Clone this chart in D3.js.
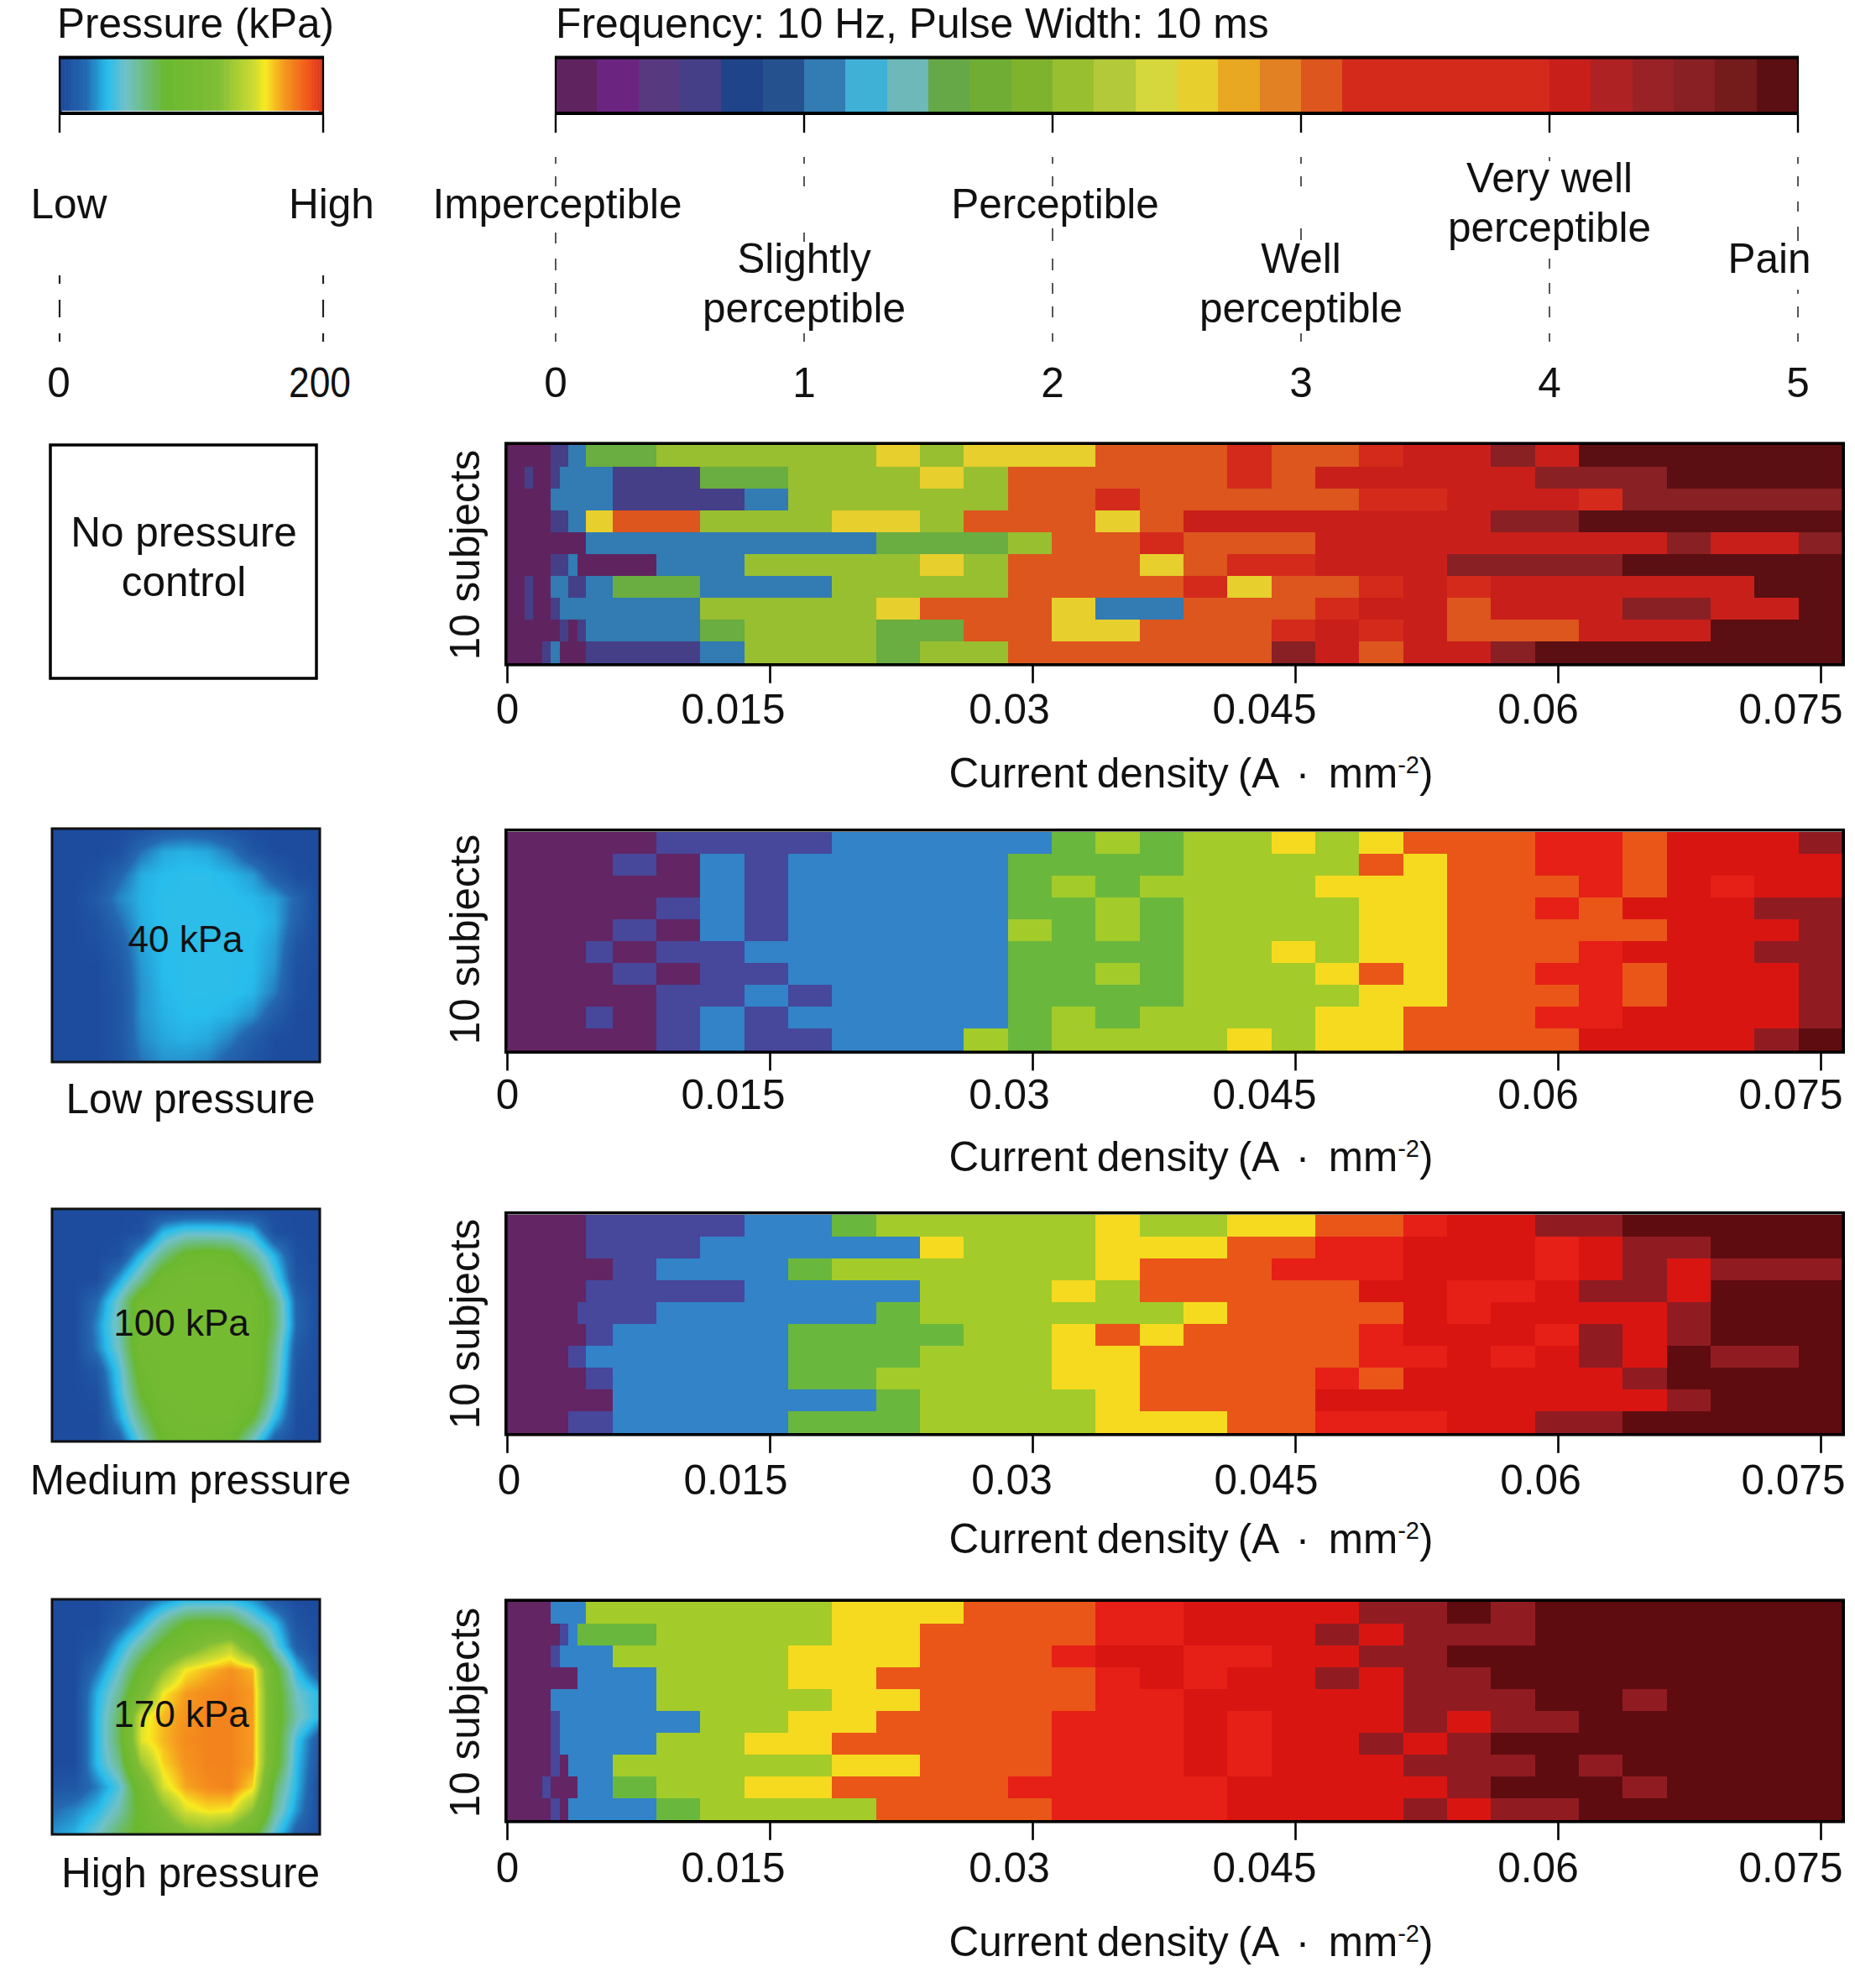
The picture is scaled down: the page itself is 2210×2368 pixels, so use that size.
<!DOCTYPE html>
<html><head><meta charset="utf-8">
<script src="https://cdnjs.cloudflare.com/ajax/libs/d3/7.8.5/d3.min.js"></script>
<style>html,body{margin:0;padding:0;background:#fff}svg{display:block}text{font-family:"Liberation Sans",Arial,sans-serif;fill:#111}</style>
</head><body><svg id="c" width="2210" height="2368" xmlns="http://www.w3.org/2000/svg"></svg>
<script>
// Current density column edges (A/mm2)
const edges=[0,.0005,.001,.0015,.002,.0025,.003,.0035,.004,.0045,.006,.0085,.011,.0135,.016,.0185,.021,.0235,.026,.0285,.031,.0335,.036,.0385,.041,.0435,.046,.0485,.051,.0535,.056,.0585,.061,.0635,.066,.0685,.071,.0735,.076];
const tickValues=[0,.015,.03,.045,.06,.075];
const tickLabels=["0","0.015","0.03","0.045","0.06","0.075"];
const ratingStep=0.5; // each level below is a rating of level x 0.5

const noPressure=[
[0,0,0,0,0,1,1,2,2,3,3,4,4,4,4,4,5,4,5,5,5,6,6,6,7,6,6,7,8,8,9,8,10,10,10,10,10,10],
[0,0,1,0,0,1,2,2,2,2,1,1,3,3,4,4,4,5,4,6,6,6,6,6,7,6,8,8,8,8,8,9,9,9,10,10,10,10],
[0,0,0,0,0,2,2,2,2,2,1,1,1,2,4,4,4,4,4,6,6,7,6,6,6,6,6,7,7,8,8,8,7,9,9,9,9,9],
[0,0,0,0,0,1,1,2,2,5,6,6,4,4,4,5,5,4,6,6,6,5,6,8,8,8,8,8,8,8,9,9,10,10,10,10,10,10],
[0,0,0,0,0,0,0,0,0,2,2,2,2,2,2,2,3,3,3,4,6,6,7,6,6,6,8,8,8,8,8,8,8,8,9,8,8,9],
[0,0,0,0,0,1,1,2,0,0,0,2,2,4,4,4,4,5,4,6,6,6,5,6,7,7,8,8,8,9,9,9,9,10,10,10,10,10],
[0,0,1,0,0,2,2,1,1,2,3,3,2,2,2,4,4,4,4,6,6,6,6,7,5,6,6,7,8,7,8,8,8,8,8,8,10,10],
[0,0,1,0,0,1,2,2,2,2,2,2,4,4,4,4,5,6,6,6,5,2,2,6,6,6,7,8,8,6,8,8,8,9,9,8,8,10],
[0,0,0,0,0,0,1,0,1,2,2,2,3,4,4,4,3,3,6,6,5,5,6,6,6,7,8,7,8,6,6,6,8,8,8,10,10,10],
[0,0,0,0,1,2,0,0,0,1,1,1,2,4,4,4,3,4,4,6,6,6,6,6,6,9,8,6,8,8,9,10,10,10,10,10,10,10]];

const lowPressure=[
[0,0,0,0,0,0,0,0,0,0,0,1,1,1,1,2,2,2,2,2,3,4,3,4,4,5,4,5,6,6,6,7,7,6,8,8,8,9],
[0,0,0,0,0,0,0,0,0,0,1,0,2,1,2,2,2,2,2,3,3,3,3,4,4,4,4,6,5,6,6,7,7,6,8,8,8,8],
[0,0,0,0,0,0,0,0,0,0,0,0,2,1,2,2,2,2,2,3,4,3,4,4,4,4,5,5,5,6,6,6,7,6,8,7,8,8],
[0,0,0,0,0,0,0,0,0,0,0,1,2,1,2,2,2,2,2,3,3,4,3,4,4,4,4,5,5,6,6,7,6,8,8,8,9,9],
[0,0,0,0,0,0,0,0,0,0,1,0,2,1,2,2,2,2,2,4,3,4,3,4,4,4,4,5,5,6,6,6,6,6,8,8,8,9],
[0,0,0,0,0,0,0,0,0,1,0,1,1,2,2,2,2,2,2,3,3,3,3,4,4,5,4,5,5,6,6,6,7,8,8,8,9,9],
[0,0,0,0,0,0,0,0,0,0,1,0,1,1,2,2,2,2,2,3,3,4,3,4,4,4,5,6,5,6,6,7,7,6,8,8,8,9],
[0,0,0,0,0,0,0,0,0,0,0,1,1,2,1,2,2,2,2,3,3,3,3,4,4,4,4,5,5,6,6,6,7,6,8,8,8,9],
[0,0,0,0,0,0,0,0,0,1,0,1,2,1,2,2,2,2,2,3,4,3,4,4,4,4,5,5,6,6,6,7,7,8,8,8,8,9],
[0,0,0,0,0,0,0,0,0,0,0,1,2,1,1,2,2,2,4,3,4,4,4,4,5,4,5,5,6,6,6,6,8,8,8,8,9,10]];

const mediumPressure=[
[0,0,0,0,0,0,0,0,0,1,1,1,1,2,2,3,4,4,4,4,4,5,4,4,5,5,6,6,7,8,8,9,9,10,10,10,10,10],
[0,0,0,0,0,0,0,0,0,1,1,1,2,2,2,2,2,5,4,4,4,5,5,5,6,6,7,7,8,8,8,7,8,9,9,10,10,10],
[0,0,0,0,0,0,0,0,0,0,1,2,2,2,3,4,4,4,4,4,4,5,6,6,6,7,7,7,8,8,8,7,8,9,8,9,9,9],
[0,0,0,0,0,0,0,0,0,1,1,1,1,2,2,2,2,4,4,4,5,4,6,6,6,6,6,8,8,7,7,8,9,9,8,10,10,10],
[0,0,0,0,0,0,0,0,1,1,1,2,2,2,2,2,3,4,4,4,4,4,4,5,6,6,6,6,8,7,8,8,8,8,9,10,10,10],
[0,0,0,0,0,0,0,0,0,1,2,2,2,2,3,3,3,3,4,4,5,6,5,6,6,6,6,7,8,8,8,7,9,8,9,10,10,10],
[0,0,0,0,0,0,0,1,1,2,2,2,2,2,3,3,3,4,4,4,5,5,6,6,6,6,6,7,7,8,7,8,9,8,10,9,9,10],
[0,0,0,0,0,0,0,0,0,1,2,2,2,2,3,3,4,4,4,4,5,5,6,6,6,6,7,6,8,8,8,8,8,9,10,10,10,10],
[0,0,0,0,0,0,0,0,0,0,2,2,2,2,2,2,3,4,4,4,4,5,6,6,6,6,8,8,8,8,8,8,8,8,9,10,10,10],
[0,0,0,0,0,0,0,1,1,1,2,2,2,2,3,3,3,4,4,4,4,5,5,5,6,6,7,7,7,8,8,9,9,10,10,10,10,10]];

const highPressure=[
[0,0,0,0,0,2,2,2,2,4,4,4,4,4,4,5,5,5,6,6,6,7,7,8,8,8,8,9,9,10,9,10,10,10,10,10,10,10],
[0,0,0,0,0,0,1,2,3,3,3,4,4,4,4,5,5,6,6,6,6,7,7,8,8,8,9,8,9,9,9,10,10,10,10,10,10,10],
[0,0,0,0,0,1,2,2,2,2,4,4,4,4,5,5,5,6,6,6,7,8,8,7,7,8,8,9,9,10,10,10,10,10,10,10,10,10],
[0,0,0,0,0,0,0,0,2,2,2,4,4,4,5,5,6,6,6,6,6,7,8,7,8,8,9,8,9,9,10,10,10,10,10,10,10,10],
[0,0,0,0,0,2,2,2,2,2,2,4,4,4,4,5,5,6,6,6,6,7,7,8,8,8,8,8,9,9,9,10,10,9,10,10,10,10],
[0,0,0,0,0,1,2,2,2,2,2,2,4,4,5,5,6,6,6,6,7,7,7,8,7,8,8,8,9,8,9,9,10,10,10,10,10,10],
[0,0,0,0,0,1,2,2,2,2,2,4,4,5,5,6,6,6,6,6,7,7,7,8,7,8,8,9,8,9,10,10,10,10,10,10,10,10],
[0,0,0,0,0,1,0,2,2,2,4,4,4,4,4,5,5,6,6,6,7,7,7,8,7,8,8,8,9,9,9,10,9,10,10,10,10,10],
[0,0,0,0,1,0,0,0,2,2,3,4,4,5,5,6,6,6,6,7,7,7,7,7,8,8,8,8,8,9,10,10,10,9,10,10,10,10],
[0,0,0,0,0,1,0,2,2,2,2,3,4,4,4,4,6,6,6,6,7,7,7,7,8,8,8,8,9,8,9,9,10,10,10,10,10,10]];

// colours of the eleven rating levels
const paletteDull=["#5f2460","#453f88","#327bb3","#6aad40","#98bf30","#e7cf2d","#dc561e","#d42a1c","#c91f1a","#882024","#5b0f12"];
const paletteBright=["#632563","#47479b","#3283c7","#6ab73d","#a3cb2a","#f5da1f","#e95618","#e61f17","#d91512","#901c22","#5f0c10"];

// Frequency colour bar
const barColors=["#5f2460","#6b2580","#57397f","#453f88","#1f448a","#25528f","#327bb3","#3fb0d6","#6eb8b9","#66a848","#6fad34","#7fb32d","#98bf30","#b3c93a","#d5d73c","#e7cf2d","#e9a821","#e28024","#dc561e","#d42a1c","#d42a1c","#d42a1c","#d42a1c","#d42a1c","#c91f1a","#ae2224","#992226","#882024","#741b1c","#5b0f12"];
const barTicks=[0,1,2,3,4,5];

// Pressure colour scale (kPa)
const pressureStops=[0,20,36,50,80,120,148,156,170,192,200];
const pressureColors=["#1c479b","#2468b0","#27bdec","#6fc1c8","#6ab82f","#7fbd35","#cfdc30","#f8ea20","#f59a1e","#ee4a1a","#d4351c"];

// Pressure maps, coarse kPa readings
const mapLow=[
[3,3,3,3,6,12,14,12,8,3,3,3,3],
[3,3,3,5,22,32,34,32,24,10,3,3,3],
[3,3,5,18,33,36,37,37,35,30,14,4,3],
[3,3,12,26,34,37,37,37,37,35,31,18,3],
[3,3,7,20,33,37,37,37,37,37,33,15,3],
[3,3,5,14,31,36,37,37,37,36,30,9,3],
[3,3,3,11,29,36,37,37,37,36,28,6,3],
[3,3,3,9,28,35,37,37,37,35,24,5,3],
[3,3,3,9,28,34,36,36,34,28,13,3,3],
[3,3,3,9,26,32,34,32,25,13,4,3,3],
[3,3,3,8,22,28,28,25,15,8,3,3,3]];
const mapMedium=[
[3,3,3,3,3,3,3,3,3,3,3,3,3],
[3,3,3,3,6,36,46,46,44,36,6,3,3],
[3,3,3,6,36,64,85,90,85,62,34,5,3],
[3,3,3,30,60,95,100,100,100,88,46,8,3],
[3,3,20,52,96,100,100,100,100,100,68,16,3],
[3,3,26,56,100,100,100,100,100,100,70,18,3],
[3,3,24,52,98,100,100,100,100,100,62,12,3],
[3,3,10,42,90,100,100,100,100,100,58,8,3],
[3,3,5,38,80,100,100,100,100,96,52,6,3],
[3,3,3,30,66,95,100,100,100,80,38,4,3],
[3,3,3,14,50,85,92,92,86,50,14,3,3]];
const mapHigh=[
[3,3,3,8,14,26,36,36,36,28,10,3,3],
[3,3,3,14,34,60,80,84,80,55,36,8,3],
[3,3,8,34,60,85,105,125,140,100,50,14,3],
[3,3,22,48,85,125,156,165,172,165,85,36,8],
[3,3,34,60,105,156,170,174,176,170,90,50,36],
[3,3,36,70,150,165,172,176,176,170,90,55,36],
[3,3,36,72,152,165,174,176,176,170,90,40,10],
[3,3,36,62,130,160,172,176,176,170,88,36,8],
[8,10,24,44,96,150,168,174,176,160,70,34,3],
[20,26,36,55,85,120,150,158,156,125,60,28,3],
[28,34,50,70,85,100,115,120,110,85,44,14,3]];

const FS=49.5;
const svg=d3.select("#c");
svg.append("rect").attr("width",2210).attr("height",2368).attr("fill","#fff");
const txt=(s,x,y,a="middle",fs=FS)=>svg.append("text").attr("x",x).attr("y",y).attr("text-anchor",a).attr("font-size",fs).text(s);

// ---- Heat panels
const xCell=d3.scaleLinear().domain([0,.076]).range([604,2195]);
const xTick=d3.scaleLinear().domain([0,.075]).range([604,2169]);
const yRow=d3.range(10);
const panels=[
 {data:noPressure,pal:paletteDull,y0:530,y1:790,lx:[604,873,1202,1506,1832,2133],tb:862,tt:938,sy:661},
 {data:lowPressure,pal:paletteBright,y0:990.5,y1:1251.5,lx:[604,873,1202,1506,1832,2133],tb:1321,tt:1395,sy:1119},
 {data:mediumPressure,pal:paletteBright,y0:1446.5,y1:1707,lx:[606,876,1205,1508,1835,2136],tb:1780,tt:1850,sy:1577},
 {data:highPressure,pal:paletteBright,y0:1908,y1:2168,lx:[604,873,1202,1506,1832,2133],tb:2242,tt:2330,sy:2040}];
panels.forEach(p=>{
  const y=d3.scaleBand().domain(yRow).range([p.y0,p.y1]);
  const col=d3.scaleOrdinal().domain(d3.range(11)).range(p.pal);
  const g=svg.append("g").attr("shape-rendering","crispEdges");
  g.selectAll("g").data(p.data).join("g").attr("transform",(d,i)=>`translate(0,${y(i)})`)
   .selectAll("rect").data(d=>d).join("rect")
   .attr("x",(d,i)=>xCell(edges[i])).attr("width",(d,i)=>xCell(edges[i+1])-xCell(edges[i])+.5)
   .attr("height",y.bandwidth()+.5).attr("fill",d=>col(d));
  svg.append("rect").attr("x",602.8).attr("y",p.y0-1.8).attr("width",2196.2-602.8).attr("height",p.y1-p.y0+3.6)
     .attr("fill","none").attr("stroke","#000").attr("stroke-width",3.6);
  const ax=svg.append("g").attr("transform",`translate(0,${p.y1+1.8})`)
     .call(d3.axisBottom(xTick).tickValues(tickValues).tickSize(22).tickFormat((d,i)=>tickLabels[i]));
  ax.select(".domain").remove();
  ax.selectAll("line").attr("stroke","#000").attr("stroke-width",2.6);
  ax.selectAll("text").attr("font-size",FS).attr("font-family",'"Liberation Sans"').attr("fill","#111")
    .attr("x",(d,i)=>p.lx[i]-xTick(d)).attr("y",p.tb-p.y1-1.8).attr("dy",0);
  const t=txt("",1419,p.tt);
  t.append("tspan").text("Current density (A  ·  mm");
  t.append("tspan").attr("dy",-17).attr("font-size",29).text("-2");
  t.append("tspan").attr("dy",17).text(")");
  t.style("white-space","pre").style("word-spacing","-2.6px");
  svg.append("text").attr("transform",`translate(571,${p.sy}) rotate(-90)`).attr("text-anchor","middle").attr("font-size",FS).text("10 subjects");
});

// ---- Pressure maps
const ramp=d3.scaleLinear().domain(pressureStops).range(pressureColors).clamp(true);
function mapImage(grid,w,h){
  const cv=document.createElement("canvas");cv.width=w;cv.height=h;
  const c=cv.getContext("2d"),im=c.createImageData(w,h);
  const R=grid.length-1,C=grid[0].length-1;
  for(let j=0;j<h;j++)for(let i=0;i<w;i++){
    const u=i/(w-1)*C,v=j/(h-1)*R;
    const a=Math.min(Math.floor(u),C-1),b=Math.min(Math.floor(v),R-1),fu=u-a,fv=v-b;
    const val=(grid[b][a]*(1-fu)+grid[b][a+1]*fu)*(1-fv)+(grid[b+1][a]*(1-fu)+grid[b+1][a+1]*fu)*fv;
    const k=d3.rgb(ramp(val)),o=(j*w+i)*4;
    im.data[o]=k.r;im.data[o+1]=k.g;im.data[o+2]=k.b;im.data[o+3]=255;
  }
  c.putImageData(im,0,0);return cv.toDataURL();
}
const boxes=[
 {grid:mapLow,y:987,h:278,lab:"40 kPa",lx:221,ly:1134,cap:"Low pressure",cy:1326},
 {grid:mapMedium,y:1440,h:277,lab:"100 kPa",lx:216,ly:1591,cap:"Medium pressure",cy:1780},
 {grid:mapHigh,y:1905,h:280,lab:"170 kPa",lx:216,ly:2057,cap:"High pressure",cy:2248}];
boxes.forEach(b=>{
  svg.append("image").attr("x",62).attr("y",b.y).attr("width",319).attr("height",b.h).attr("href",mapImage(b.grid,319,b.h)).attr("preserveAspectRatio","none");
  svg.append("rect").attr("x",62).attr("y",b.y).attr("width",319).attr("height",b.h).attr("fill","none").attr("stroke","#111").attr("stroke-width",3);
  txt(b.lab,b.lx,b.ly,"middle",44);
  txt(b.cap,227,b.cy);
});
svg.append("rect").attr("x",60).attr("y",530).attr("width",317).attr("height",278).attr("fill","none").attr("stroke","#000").attr("stroke-width",3.5);
txt("No pressure",219,651);
txt("control",219,710);

// ---- Top legends
txt("Pressure (kPa)",68,45,"start");
txt("Frequency: 10 Hz, Pulse Width: 10 ms",662,45,"start",49.8);
const xP=d3.scaleLinear().domain([0,200]).range([71,385]);
svg.append("g").selectAll("rect").data(d3.range(0,200,1)).join("rect")
  .attr("x",d=>xP(d)).attr("width",d=>xP(d+1)-xP(d)+.6).attr("y",70).attr("height",63).attr("fill",d=>ramp(d+.5));
const xB=d3.scaleLinear().domain([0,5]).range([662,2142]);
svg.append("g").attr("shape-rendering","crispEdges").selectAll("rect").data(barColors).join("rect")
  .attr("x",(d,i)=>xB(i/6)).attr("width",xB(1/6)-xB(0)+.5).attr("y",70).attr("height",63).attr("fill",d=>d);
[[xP,[0,200]],[xB,barTicks]].forEach(([s,vals])=>{
  const [a,b]=s.range();
  [68.5,135].forEach(y=>svg.append("line").attr("x1",a-1).attr("x2",b+1).attr("y1",y).attr("y2",y).attr("stroke","#000").attr("stroke-width",4));
  [a,b].forEach(x=>svg.append("line").attr("x1",x).attr("x2",x).attr("y1",67).attr("y2",137).attr("stroke","#000").attr("stroke-width",2.2));
  vals.forEach(v=>svg.append("line").attr("x1",s(v)).attr("x2",s(v)).attr("y1",137).attr("y2",158).attr("stroke","#000").attr("stroke-width",2.4));
});
svg.append("line").attr("x1",74).attr("x2",380).attr("y1",132.4).attr("y2",132.4).attr("stroke","#dfe8ee").attr("stroke-width",1);
// dashed drop lines
const dashSets=[
 [[187,195],[210,222],[277,290],[308,322],[337,350],[365,378],[397,407]],
 [[187,195],[210,222],[277,288],[397,407]],
 [[187,195],[210,222],[272,287],[308,322],[337,350],[365,378],[397,407]],
 [[187,195],[210,222],[272,286],[397,407]],
 [[187,192],[308,320],[337,350],[365,378],[397,407]],
 [[187,195],[210,222],[240,252],[270,287],[345,350],[365,378],[397,407]]];
barTicks.forEach((v,i)=>dashSets[i].forEach(s=>svg.append("line").attr("x1",xB(v)).attr("x2",xB(v)).attr("y1",s[0]).attr("y2",s[1]).attr("stroke","#444").attr("stroke-width",1.8)));
[0,200].forEach(v=>[[328,338],[357,378],[397,407]].forEach(s=>svg.append("line").attr("x1",xP(v)).attr("x2",xP(v)).attr("y1",s[0]).attr("y2",s[1]).attr("stroke","#222").attr("stroke-width",2.2)));

txt("Low",82,260);txt("High",395,260);
txt("Imperceptible",664,260);txt("Perceptible",1257,260);
txt("Very well",1846,229);txt("perceptible",1846,288);
txt("Slightly",958,325);txt("perceptible",958,384);
txt("Well",1550,325);txt("perceptible",1550,384);
txt("Pain",2108,325);
txt("0",70,473);
txt("200",381,473).attr("textLength",74).attr("lengthAdjust","spacingAndGlyphs");
barTicks.forEach(v=>txt(String(v),xB(v),473));
</script></body></html>
